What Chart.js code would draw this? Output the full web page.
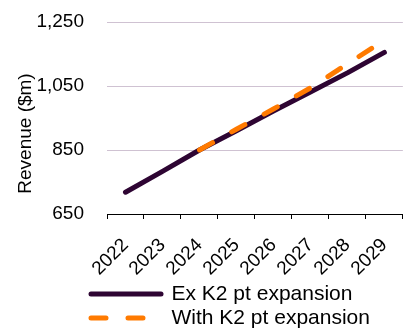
<!DOCTYPE html>
<html>
<head>
<meta charset="utf-8">
<script src="https://cdn.jsdelivr.net/npm/chart.js@4/dist/chart.umd.min.js"></script>
<style>
  html, body { margin: 0; padding: 0; background: #fff; }
  #wrap { position: relative; width: 416px; height: 329px; }
</style>
</head>
<body>
<div id="wrap"><canvas id="chart"></canvas></div>
<script>
// Revenue forecast, with and without the K2 point expansion
const years = ['2022', '2023', '2024', '2025', '2026', '2027', '2028', '2029'];
const exK2 = [718, 783, 850, 910, 972, 1031, 1091, 1155];
const withK2 = [null, null, 850, 915, 978, 1044, 1119, 1193];
const seriesNames = ['Ex K2 pt expansion', 'With K2 pt expansion'];
const yTicks = [650, 850, 1050, 1250];
const axisTitle = 'Revenue ($m)';

const FONT = "'Liberation Sans', Arial, sans-serif";
Chart.defaults.font.family = FONT;
Chart.defaults.color = '#000';

// Places the legend block and the rotated y-axis title
const layoutTweaks = {
  id: 'layoutTweaks',
  beforeDraw(chart) {
    const lg = chart.legend;
    const pad = lg.options.labels.padding;
    lg.left = chart.chartArea.left - 16 - pad;
    lg.top = chart.chartArea.bottom + 66.5;
  },
  afterDraw(chart) {
    const { ctx, chartArea } = chart;
    ctx.save();
    ctx.translate(chartArea.left - 81, chartArea.top + 111.5);
    ctx.rotate(-Math.PI / 2);
    ctx.font = '19px ' + FONT;
    ctx.fillStyle = '#000';
    ctx.textAlign = 'center';
    ctx.textBaseline = 'middle';
    ctx.fillText(axisTitle, 0, 0);
    ctx.restore();
  }
};

new Chart(document.getElementById('chart'), {
  type: 'line',
  data: {
    labels: years,
    datasets: [
      {
        label: seriesNames[0],
        data: exK2,
        borderColor: '#2e0533',
        backgroundColor: '#2e0533',
        borderWidth: 5,
        borderCapStyle: 'round',
        borderJoinStyle: 'round',
        pointRadius: 0,
        tension: 0,
        order: 2
      },
      {
        label: seriesNames[1],
        data: withK2,
        borderColor: '#ff7a00',
        backgroundColor: '#ff7a00',
        borderWidth: 5,
        borderDash: [15, 22],
        borderCapStyle: 'round',
        borderJoinStyle: 'round',
        pointRadius: 0,
        tension: 0,
        order: 1
      }
    ]
  },
  options: {
    responsive: true,
    maintainAspectRatio: false,
    animation: false,
    layout: { padding: { top: 22, right: 8, left: 0, bottom: -5 } },
    plugins: {
      tooltip: { enabled: false },
      legend: {
        position: 'bottom',
        align: 'start',
        labels: {
          usePointStyle: true,
          pointStyle: 'line',
          pointStyleWidth: 70,
          padding: 3,
          color: '#000',
          font: { size: 21, family: FONT },
          sort: (a, b) => a.datasetIndex - b.datasetIndex,
          // legend samples carry each series' own dash and caps
          generateLabels(chart) {
            const items = Chart.defaults.plugins.legend.labels.generateLabels(chart);
            return items.map(item => {
              const ds = chart.data.datasets[item.datasetIndex];
              item.lineDash = ds.borderDash || [];
              item.lineCap = ds.borderCapStyle;
              item.lineWidth = ds.borderWidth;
              item.strokeStyle = ds.borderColor;
              return item;
            });
          }
        }
      }
    },
    scales: {
      x: {
        offset: true,
        grid: {
          offset: true,
          drawOnChartArea: false,
          drawTicks: true,
          tickLength: 5,
          color: '#000',
          lineWidth: 1
        },
        border: { display: true, color: '#000', width: 1 },
        ticks: {
          autoSkip: false,
          minRotation: 45,
          maxRotation: 45,
          padding: 15,
          color: '#000',
          font: { size: 19, family: FONT }
        },
        afterFit(scale) { scale.height = 62; }
      },
      y: {
        min: yTicks[0],
        max: yTicks[yTicks.length - 1],
        afterBuildTicks(scale) { scale.ticks = yTicks.map(v => ({ value: v })); },
        grid: {
          drawTicks: false,
          color: ctx => (ctx.tick && ctx.tick.value === yTicks[0]) ? 'rgba(0,0,0,0)' : '#cfc2d2',
          lineWidth: 1
        },
        border: { display: false },
        ticks: {
          padding: 23,
          color: '#000',
          font: { size: 19, family: FONT },
          callback: v => Number(v).toLocaleString('en-US')
        },
        afterFit(scale) {
          scale.width = 107;
          scale.paddingTop = 0;
          scale.paddingBottom = 0;
        }
      }
    }
  },
  plugins: [layoutTweaks]
});
</script>
</body>
</html>
